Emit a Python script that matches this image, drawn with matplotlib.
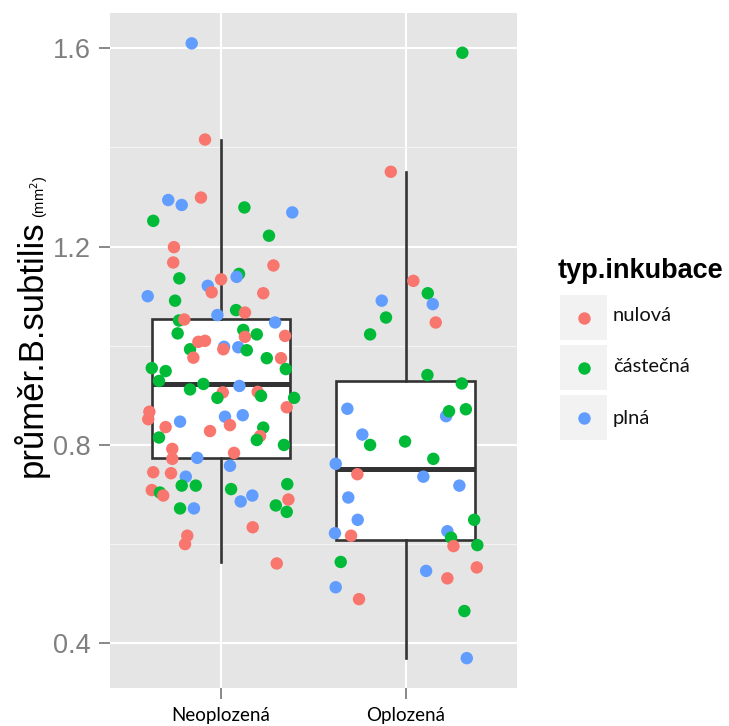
import matplotlib
matplotlib.use("Agg")
import matplotlib.pyplot as plt
from matplotlib.patches import Rectangle

# groups on the x axis and incubation types (legend order)
skupiny = ["Neoplozená", "Oplozená"]
typy = ["nulová", "částečná", "plná"]
barvy = ["#F8766D", "#00BA38", "#619CFF"]

# box summaries: whisker low, Q1, median, Q3, whisker high
neo_box = [0.563, 0.773, 0.922, 1.055, 1.416]
opl_box = [0.370, 0.608, 0.751, 0.929, 1.351]

# Neoplozená - jitter offset, diameter (mm2), incubation type index
neo_jitter = [
    -0.158, -0.086, -0.285, -0.212, -0.108, -0.366, 0.127, 0.386, 0.260, -0.254,
    -0.258, 0.284, -0.225, 0.098, 0.085, 0.001, -0.071, -0.050, -0.396, 0.229,
    -0.248, 0.082, 0.130, -0.019, -0.227, -0.198, 0.293, 0.347, -0.234, 0.121,
    0.130, 0.194, -0.167, -0.122, -0.086, -0.149, 0.017, 0.013, 0.094, 0.140,
    0.248, 0.325, 0.351, -0.374, -0.299, -0.335, -0.095, 0.100, -0.167, 0.010,
    -0.019, 0.199, 0.217, 0.396, 0.356, -0.387, -0.393, -0.221, -0.299, 0.022,
    0.118, 0.049, -0.059, 0.229, 0.212, 0.194, -0.335, 0.341, -0.263, -0.263,
    -0.128, 0.071, 0.049, -0.366, -0.270, -0.190, -0.212, -0.136, -0.374, -0.330,
    -0.312, 0.055, 0.359, 0.170, 0.107, 0.365, 0.297, 0.356, -0.221, -0.146,
    0.172, -0.182, -0.194, 0.302,
]
neo_prumer = [
    1.610, 1.416, 1.294, 1.284, 1.299, 1.252, 1.279, 1.269, 1.222, 1.199,
    1.168, 1.162, 1.136, 1.145, 1.139, 1.134, 1.121, 1.108, 1.100, 1.106,
    1.091, 1.072, 1.067, 1.062, 1.051, 1.053, 1.047, 1.020, 1.025, 1.032,
    1.018, 1.023, 0.993, 1.008, 1.010, 0.976, 0.998, 0.993, 0.997, 0.991,
    0.975, 0.975, 0.953, 0.955, 0.949, 0.929, 0.923, 0.919, 0.912, 0.906,
    0.895, 0.907, 0.899, 0.895, 0.876, 0.867, 0.852, 0.847, 0.836, 0.857,
    0.860, 0.840, 0.828, 0.835, 0.818, 0.810, 0.815, 0.800, 0.792, 0.772,
    0.774, 0.784, 0.758, 0.745, 0.743, 0.736, 0.718, 0.718, 0.709, 0.704,
    0.698, 0.711, 0.721, 0.698, 0.686, 0.690, 0.678, 0.665, 0.672, 0.672,
    0.634, 0.617, 0.600, 0.561,
]
neo_typ = [
    2, 0, 2, 2, 0, 1, 1, 2, 1, 0,
    0, 0, 1, 1, 2, 0, 2, 0, 2, 0,
    1, 1, 0, 2, 1, 0, 2, 0, 1, 1,
    0, 1, 1, 0, 0, 0, 2, 0, 2, 1,
    1, 0, 1, 1, 1, 1, 1, 2, 1, 0,
    1, 0, 1, 1, 0, 0, 0, 2, 0, 2,
    2, 0, 0, 1, 0, 1, 1, 1, 0, 0,
    2, 0, 2, 0, 0, 2, 1, 1, 0, 1,
    0, 1, 1, 2, 2, 0, 1, 1, 1, 2,
    0, 0, 0, 0,
]

# Oplozená - jitter offset, diameter (mm2), incubation type index
opl_jitter = [
    0.306, -0.081, 0.041, 0.119, 0.146, -0.130, -0.107, 0.162, -0.193, 0.117,
    0.303, -0.316, 0.218, 0.234, 0.325, -0.235, -0.193, -0.004, 0.149, -0.379,
    -0.262, 0.095, 0.290, -0.311, 0.370, -0.260, -0.383, -0.296, 0.225, 0.245,
    0.258, 0.387, -0.352, 0.110, 0.225, 0.384, -0.379, -0.253, 0.317, 0.330,
]
opl_prumer = [
    1.591, 1.351, 1.131, 1.106, 1.084, 1.091, 1.057, 1.047, 1.023, 0.941,
    0.924, 0.873, 0.858, 0.868, 0.872, 0.821, 0.800, 0.807, 0.772, 0.762,
    0.741, 0.736, 0.718, 0.694, 0.649, 0.649, 0.622, 0.617, 0.626, 0.613,
    0.596, 0.598, 0.564, 0.546, 0.531, 0.553, 0.513, 0.489, 0.465, 0.370,
]
opl_typ = [
    1, 0, 0, 1, 2, 2, 1, 0, 1, 1,
    1, 2, 2, 1, 1, 2, 1, 1, 1, 2,
    0, 2, 2, 2, 1, 2, 2, 0, 2, 1,
    0, 1, 1, 2, 0, 0, 2, 0, 1, 2,
]

W, H = 729, 726


def fx(px):
    return px / W


def fy(py):
    return 1 - py / H


fig = plt.figure(figsize=(W / 100, H / 100), dpi=100)
ax = fig.add_axes([fx(110), fy(688), fx(516.7) - fx(110), fy(13.3) - fy(688)])
ax.set_facecolor("#E5E5E5")
for s in ax.spines.values():
    s.set_visible(False)

staty = []
for b in (neo_box, opl_box):
    staty.append({"whislo": b[0], "q1": b[1], "med": b[2], "q3": b[3],
                  "whishi": b[4], "fliers": []})
ax.bxp(staty, positions=[1, 2], widths=0.75, patch_artist=True,
       showcaps=False, showfliers=False, manage_ticks=False,
       boxprops=dict(facecolor="white", edgecolor="#333333", linewidth=1.9),
       whiskerprops=dict(color="#333333", linewidth=1.9),
       medianprops=dict(color="#333333", linewidth=3.6, solid_capstyle="butt"),
       zorder=2)

for pos, jit, val, typ in ((1, neo_jitter, neo_prumer, neo_typ),
                           (2, opl_jitter, opl_prumer, opl_typ)):
    xs = [pos + j for j in jit]
    ax.scatter(xs, val, s=80, c=[barvy[t] for t in typ], linewidths=0, zorder=3)

ax.set_xlim(0.4, 2.6)
ax.set_ylim(0.3098, 1.6706)
ax.set_yticks([0.4, 0.8, 1.2, 1.6])
ax.set_yticks([0.6, 1.0, 1.4], minor=True)
ax.set_yticklabels(["0.4", "0.8", "1.2", "1.6"], family="Liberation Sans")
ax.set_xticks([1, 2])
ax.set_xticklabels(skupiny, family="Lato", fontsize=13.5, color="black")
ax.tick_params(axis="y", which="major", length=8, width=1.3, color="#7F7F7F",
               labelsize=19.5, labelcolor="#7F7F7F", pad=6)
ax.tick_params(axis="y", which="minor", length=0)
ax.tick_params(axis="x", length=8, width=1.3, color="#7F7F7F", pad=6)

ax.grid(True, which="major", color="white", linewidth=1.5, zorder=0)
ax.grid(True, which="minor", axis="y", color="#F5F5F5", linewidth=0.8, zorder=0)
ax.set_axisbelow(True)

# y axis title with a small "(mm²)" subscript
ylab = fig.text(fx(41.5), fy(477), "průměr.B.subtilis", rotation=90,
                rotation_mode="anchor", ha="left", va="baseline",
                family="Liberation Sans", fontsize=25, color="black")
fig.canvas.draw()
ext = ylab.get_window_extent()
fig.text(fx(45), (ext.y1 + 2) / H, "(mm$^2$)", rotation=90,
         rotation_mode="anchor", ha="left", va="baseline",
         family="Liberation Sans", fontsize=10.5, color="black")

# legend
fig.text(fx(558), fy(277.5), "typ.inkubace", family="Liberation Sans",
         fontweight="bold", fontsize=19.5, ha="left", va="baseline")
lax = fig.add_axes([fx(560), fy(442), fx(607) - fx(560), fy(292) - fy(442)])
lax.set_xlim(0, 47)
lax.set_ylim(150, 0)
lax.axis("off")
for i, (nazev, barva) in enumerate(zip(typy, barvy)):
    lax.add_patch(Rectangle((0, i * 50 + 3), 47, 45, facecolor="#F2F2F2",
                            edgecolor="none"))
    lax.scatter([23.5], [i * 50 + 25.5], s=80, c=barva, linewidths=0)
    fig.text(fx(613), fy(316 + i * 51), nazev, family="Lato", fontsize=14.5,
             ha="left", va="center", color="#111111")

fig.savefig("out.png", dpi=100)
